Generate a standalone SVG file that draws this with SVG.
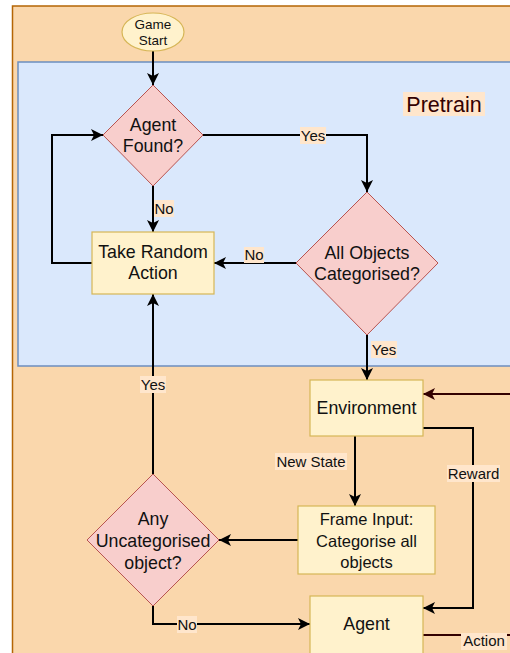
<svg xmlns="http://www.w3.org/2000/svg" width="510" height="653" viewBox="0 0 510 653">
<defs>
<style>
.t{font-family:"Liberation Sans",Arial,Helvetica,sans-serif;fill:#111;text-anchor:middle}
.n{font-size:17.8px}
.l{font-size:15px}
.f{font-size:16.5px}
.dia{fill:#f8cecc;stroke:#b85450;stroke-width:1}
.box{fill:#fff2cc;stroke:#d6b656;stroke-width:1.2}
.e{fill:none;stroke:#000;stroke-width:2}
.er{fill:none;stroke:#330000;stroke-width:2}
.lb{fill:#ffe6cc}
</style>
<marker id="a" markerUnits="userSpaceOnUse" markerWidth="14" markerHeight="14" refX="12" refY="6" orient="auto"><path d="M0,0 L12,6 L0,12 L3,6 Z" fill="#000"/></marker>
<marker id="ar" markerUnits="userSpaceOnUse" markerWidth="14" markerHeight="14" refX="12" refY="6" orient="auto"><path d="M0,0 L12,6 L0,12 L3,6 Z" fill="#330000"/></marker>
</defs>
<rect x="0" y="0" width="510" height="653" fill="#fff"/>
<g id="outer"><rect x="12.5" y="6" width="510" height="660" fill="#fad7ac" stroke="#b46504" stroke-width="1.5"/></g>
<g id="pretrain"><rect x="18" y="62" width="500" height="304" fill="#dae8fc" stroke="#6c8ebf" stroke-width="1.5"/>
<rect x="403" y="92" width="82" height="24" class="lb"/>
<text x="444" y="112" class="t" style="font-size:21.5px;fill:#330000">Pretrain</text></g>

<g id="connectors">
<path class="e" d="M153,51 V85" marker-end="url(#a)"/>
<path class="e" d="M153,186 V232" marker-end="url(#a)"/>
<path class="e" d="M92,263 H52 V135 H103" marker-end="url(#a)"/>
<path class="e" d="M203,135 H367 V192" marker-end="url(#a)"/>
<path class="e" d="M296,263 H214" marker-end="url(#a)"/>
<path class="e" d="M367,335 V380" marker-end="url(#a)"/>
<path class="er" d="M512,394 H423" marker-end="url(#ar)"/>
<path class="e" d="M355,436 V506" marker-end="url(#a)"/>
<path class="e" d="M423,428 H473 V608 H423" marker-end="url(#a)"/>
<path class="er" d="M423,635 H512"/>
<path class="e" d="M298,540 H219" marker-end="url(#a)"/>
<path class="e" d="M153,606 V624 H310" marker-end="url(#a)"/>
<path class="e" d="M153,474 V294" marker-end="url(#a)"/>
<g id="labels">
<rect x="154" y="200" width="20" height="17" class="lb"/><text x="164" y="213.5" class="t l">No</text>
<rect x="300" y="127" width="26" height="17" class="lb"/><text x="313" y="140.5" class="t l">Yes</text>
<rect x="244" y="247" width="20" height="16" class="lb"/><text x="254" y="260" class="t l">No</text>
<rect x="371" y="341" width="26" height="17" class="lb"/><text x="384" y="354.5" class="t l">Yes</text>
<rect x="275" y="453" width="72" height="17" class="lb"/><text x="311" y="466.5" class="t l">New State</text>
<rect x="447" y="465" width="53" height="17" class="lb"/><text x="473.5" y="478.5" class="t l">Reward</text>
<rect x="140" y="376" width="26" height="17" class="lb"/><text x="153" y="389.5" class="t l">Yes</text>
<rect x="177" y="616" width="20" height="17" class="lb"/><text x="187" y="629.5" class="t l">No</text>
<rect x="461" y="633" width="46" height="17" class="lb"/><text x="484" y="646" class="t l">Action</text>
</g>
</g>

<g id="game-start"><ellipse cx="153" cy="32" rx="31" ry="19" fill="#fff2cc" stroke="#d6b656" stroke-width="1.2"/>
<text class="t" style="font-size:13.5px" x="153" y="28.5">Game</text><text class="t" style="font-size:13.5px" x="153" y="44.5">Start</text></g>

<g id="agent-found"><path class="dia" d="M153,85 L203,135 L153,186 L103,135 Z"/>
<text class="t n" x="153" y="131">Agent</text><text class="t n" x="153" y="152">Found?</text></g>

<g id="take-random"><rect class="box" x="92" y="232" width="122" height="62"/>
<text class="t n" x="153" y="258">Take Random</text><text class="t n" x="153" y="279">Action</text></g>

<g id="all-objects"><path class="dia" d="M367,192 L438,263 L367,335 L296,263 Z"/>
<text class="t n" x="367" y="259">All Objects</text><text class="t n" x="367" y="280">Categorised?</text></g>

<g id="environment"><rect class="box" x="310" y="380" width="113" height="56"/>
<text class="t n" x="366.5" y="414">Environment</text></g>

<g id="frame-input"><rect class="box" x="298" y="506" width="137" height="68"/>
<text class="t f" x="366.5" y="525">Frame Input:</text><text class="t f" x="366.5" y="547">Categorise all</text><text class="t f" x="366.5" y="568">objects</text></g>

<g id="any-uncat"><path class="dia" d="M153,474 L219,540 L153,606 L87,540 Z"/>
<text class="t n" x="153" y="525">Any</text><text class="t n" x="153" y="547">Uncategorised</text><text class="t n" x="153" y="569">object?</text></g>

<g id="agent"><rect class="box" x="310" y="596" width="113" height="60"/>
<text class="t n" x="366.5" y="630">Agent</text></g>
</svg>
